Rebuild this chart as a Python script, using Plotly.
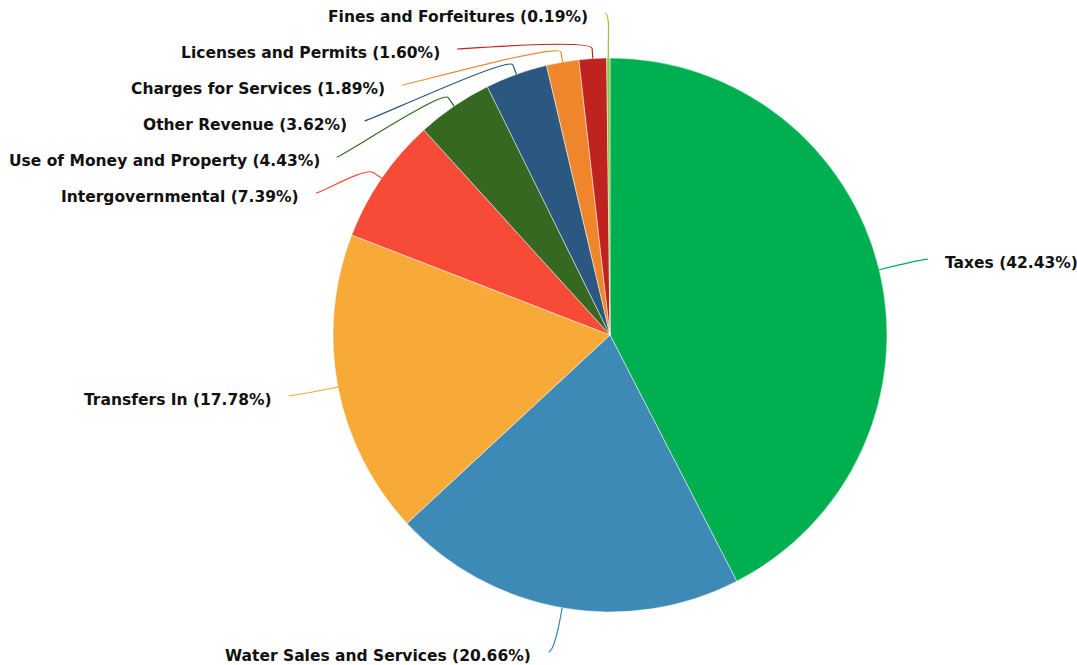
import math
import plotly.graph_objects as go

# Revenue sources and their share of the total (%), in drawing order (clockwise from 12 o'clock)
categories = [
    "Taxes",
    "Water Sales and Services",
    "Transfers In",
    "Intergovernmental",
    "Use of Money and Property",
    "Other Revenue",
    "Charges for Services",
    "Licenses and Permits",
    "Fines and Forfeitures",
]
shares = [42.43, 20.66, 17.78, 7.39, 4.43, 3.62, 1.89, 1.60, 0.19]
colors = [
    "#00B050", "#3D8AB6", "#F7AA38", "#F84B37", "#366822",
    "#2B5880", "#F0862C", "#BE2320", "#8DC63F",
]

# Canvas and pie geometry (pixels)
W, H = 1077, 665
CX, CY, R = 610, 335, 277
LABEL_R = 322      # radius on which connector ends sit
BREAK = 10         # straight radial stub before the soft bend
PAD = 5            # horizontal padding added to the label circle
GAP = 15           # space between connector end and text
SLOT = 36          # vertical room taken by one label
TEXT_DY = 4        # text centre sits slightly below the connector end
TOP, BOTTOM = 17, 656
FONT = "DejaVu Sans"


def px(x):
    return x / W


def py(y):
    return 1 - y / H


def spread(targets):
    """Push overlapping label centres apart, keeping each group centred on its targets."""
    def start(g):
        s = sum(g) / len(g) - SLOT * (len(g) - 1) / 2
        return max(TOP, min(s, BOTTOM - SLOT * (len(g) - 1)))

    groups = []
    for t in targets:
        groups.append([t])
        while len(groups) > 1:
            prev, cur = groups[-2], groups[-1]
            if start(prev) + SLOT * len(prev) > start(cur):
                groups[-2] = prev + cur
                groups.pop()
            else:
                break
    out = []
    for g in groups:
        s = start(g)
        out += [s + SLOT * k for k in range(len(g))]
    return out


total = sum(shares)
mids = []
acc = 0.0
for v in shares:
    mids.append((acc + v / 2) / total * 2 * math.pi)
    acc += v

# Natural label centres, split by side of the pie
sides = {"left": [], "right": []}
for i, a in enumerate(mids):
    natural = CY - math.cos(a) * LABEL_R + TEXT_DY
    side = "right" if math.sin(a) >= 0 else "left"
    sides[side].append((natural, i))

label_y = {}
for side, items in sides.items():
    items.sort()
    placed = spread([t for t, _ in items])
    for (t, i), y in zip(items, placed):
        label_y[i] = y

fig = go.Figure(
    go.Pie(
        labels=categories,
        values=shares,
        sort=False,
        direction="clockwise",
        rotation=0,
        marker=dict(colors=colors, line=dict(color="rgba(255,255,255,0.8)", width=0.6)),
        textinfo="none",
        hoverinfo="label+percent",
        showlegend=False,
        domain=dict(x=[px(CX - R), px(CX + R)], y=[py(CY + R), py(CY - R)]),
    )
)

shapes = []
annotations = []
for i, a in enumerate(mids):
    s, c = math.sin(a), math.cos(a)
    sign = 1 if s >= 0 else -1
    tx, ty = CX + R * s, CY - R * c
    bx, by = CX + (R + BREAK) * s, CY - (R + BREAK) * c
    ey = label_y[i] - TEXT_DY
    dy = ey - CY
    ex = CX + sign * (math.sqrt(max(LABEL_R ** 2 - dy ** 2, 0)) + PAD)
    c1x, c1y = ex - sign * 5, ey
    c2x, c2y = 2 * bx - tx, 2 * by - ty
    path = (
        f"M {px(ex)},{py(ey)} "
        f"C {px(c1x)},{py(c1y)} {px(c2x)},{py(c2y)} {px(bx)},{py(by)} "
        f"L {px(tx)},{py(ty)}"
    )
    shapes.append(dict(type="path", xref="paper", yref="paper", path=path,
                       line=dict(color=colors[i], width=1.2)))
    annotations.append(dict(
        x=px(ex + sign * GAP), y=py(label_y[i]), xref="paper", yref="paper",
        xanchor="left" if sign > 0 else "right", yanchor="middle",
        text=f"{categories[i]} ({shares[i]:.2f}%)", showarrow=False,
        font=dict(family=FONT, size=15.5, color="#111111", weight=700),
    ))

fig.update_layout(
    width=W, height=H,
    margin=dict(l=0, r=0, t=0, b=0),
    paper_bgcolor="white", plot_bgcolor="white",
    shapes=shapes, annotations=annotations,
)

fig.write_html("out.html")
